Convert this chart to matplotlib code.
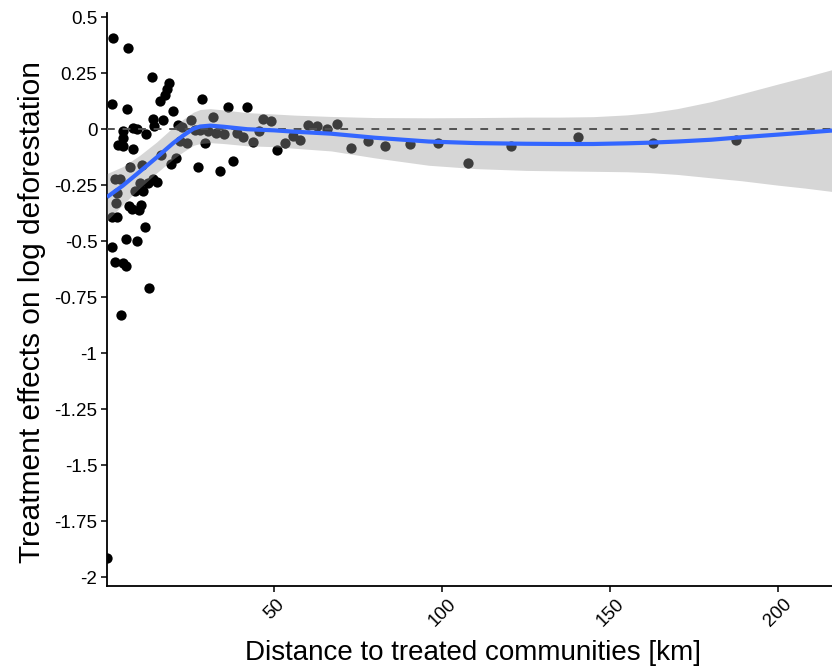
import matplotlib
matplotlib.use('Agg')
import matplotlib.pyplot as plt
import numpy as np

plt.rcParams['font.family'] = ['Liberation Sans', 'DejaVu Sans']

# Puntos: distancia [km] y efecto sobre log deforestacion
dist = [2.2, 6.6, 1.9, 6.3, 13.6, 18.8, 18.1, 17.6, 16.1, 20.0,
        28.6, 36.4, 42.0, 14.1, 14.4, 17.1, 5.0, 7.9, 9.3, 11.9,
        5.2, 3.7, 5.0, 7.9, 7.0, 10.8, 16.5, 19.3, 20.7, 21.5,
        22.5, 25.2, 26.5, 28.0, 31.8, 30.4, 32.8, 35.1, 22.0, 24.0,
        29.6, 27.3, 33.9, 37.7, 39.0, 40.7, 43.8, 45.5, 46.8, 49.0,
        50.8, 53.3, 55.7, 57.8, 60.2, 62.9, 65.7, 68.7, 72.8, 78.1,
        83.0, 90.3, 98.9, 107.8, 120.5, 140.5, 162.7, 187.4,
        2.7, 4.2, 3.2, 3.0, 6.8, 7.6, 10.3, 9.8, 8.6, 11.1,
        10.1, 12.6, 14.1, 15.3, 1.7, 3.2, 11.6, 1.7, 6.0, 9.1,
        2.7, 5.0, 5.9, 12.8, 4.5, 0.3]
efecto = [0.409, 0.364, 0.113, 0.089, 0.235, 0.205, 0.179, 0.153, 0.128, 0.080,
          0.134, 0.098, 0.100, 0.045, 0.015, 0.042, -0.010, 0.004, 0.000, -0.020,
          -0.040, -0.070, -0.075, -0.087, -0.167, -0.160, -0.116, -0.155, -0.128, 0.019,
          0.009, 0.042, -0.003, -0.003, 0.055, -0.007, -0.016, -0.023, -0.052, -0.063,
          -0.063, -0.170, -0.186, -0.140, -0.018, -0.036, -0.058, -0.009, 0.046, 0.038,
          -0.092, -0.063, -0.032, -0.048, 0.019, 0.015, 0.000, 0.022, -0.082, -0.051,
          -0.075, -0.067, -0.060, -0.152, -0.075, -0.036, -0.060, -0.048,
          -0.223, -0.223, -0.286, -0.330, -0.345, -0.355, -0.337, -0.363, -0.275, -0.274,
          -0.241, -0.238, -0.222, -0.234, -0.390, -0.390, -0.438, -0.524, -0.490, -0.500,
          -0.591, -0.598, -0.613, -0.707, -0.829, -1.915]

# Curva suavizada (loess), con su banda de confianza
suav_x = [0.3, 5, 10, 15, 20, 23, 26, 28, 31, 35, 42, 50, 56, 67, 80,
          96, 110, 125, 135, 145, 155, 162, 170, 180, 189, 200, 208, 216]
suav_y = [-0.303, -0.252, -0.190, -0.127, -0.062, -0.028, 0.002, 0.012, 0.016, 0.011,
          0.000, -0.005, -0.011, -0.020, -0.038, -0.055, -0.062, -0.065, -0.066, -0.066,
          -0.063, -0.060, -0.055, -0.047, -0.036, -0.024, -0.015, -0.006]
banda = [0.105, 0.085, 0.073, 0.069, 0.071, 0.073, 0.074, 0.076, 0.076, 0.075,
         0.074, 0.073, 0.074, 0.077, 0.090, 0.106, 0.114, 0.119, 0.120, 0.122,
         0.127, 0.134, 0.147, 0.170, 0.194, 0.226, 0.248, 0.272]

yticks = [0.5, 0.25, 0, -0.25, -0.5, -0.75, -1, -1.25, -1.5, -1.75, -2]
ytick_labels = ['0.5', '0.25', '0', '-0.25', '-0.5', '-0.75', '-1', '-1.25', '-1.5', '-1.75', '-2']
xticks = [50, 100, 150, 200]

#%% Figura
W, H = 832, 670
fig = plt.figure(figsize=(W/100, H/100), dpi=100)
ax = fig.add_axes([107/W, 1 - 586/H, 1 - 107/W, (586 - 13)/H])

ax.scatter(dist, efecto, s=55, color='black', linewidths=0, zorder=2)

sy = np.array(suav_y)
bd = np.array(banda)
ax.fill_between(suav_x, sy - bd, sy + bd, color='#999999', alpha=0.4, linewidth=0, zorder=3)
ax.axhline(0, color='#505050', linestyle=(0, (4, 4)), linewidth=1.4, zorder=4)
ax.plot(suav_x, suav_y, color='#3366FF', linewidth=3, zorder=5, solid_capstyle='butt')

ax.set_xlim(0.3, 216)
ax.set_ylim(-2.04, 0.519)

ax.set_yticks(yticks)
ax.set_yticklabels(ytick_labels)
ax.set_xticks(xticks)
ax.set_xticklabels([str(t) for t in xticks], rotation=45, ha='center', va='top')

for s in ['top', 'right']:
    ax.spines[s].set_visible(False)
for s in ['left', 'bottom']:
    ax.spines[s].set_linewidth(1.3)
    ax.spines[s].set_color('black')

ax.tick_params(axis='both', length=4, width=1.1, color='black', labelsize=13.5,
               labelcolor='black', pad=3)
ax.tick_params(axis='x', pad=3)

ax.set_xlabel('Distance to treated communities [km]', fontsize=20)
ax.set_ylabel('Treatment effects on log deforestation', fontsize=21.5)
ax.xaxis.set_label_coords(0.505, -0.094)
ax.yaxis.set_label_coords(-0.084, 0.478)

fig.savefig('out.png', dpi=100)
